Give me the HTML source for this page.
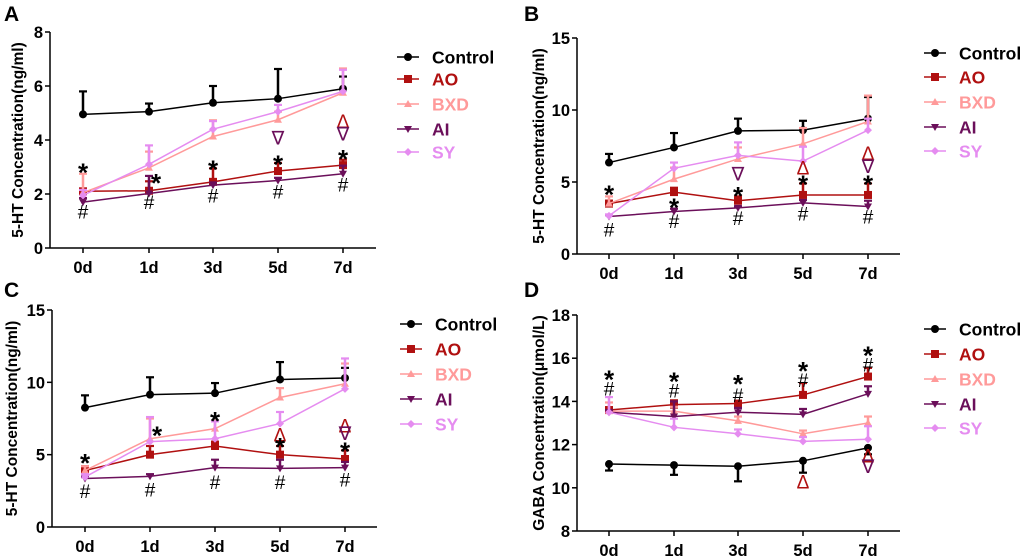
<!DOCTYPE html>
<html><head><meta charset="utf-8"><style>
html,body{margin:0;padding:0;background:#fff;}
svg{display:block;font-family:"Liberation Sans",Arial,sans-serif;}
</style></head><body>
<svg id="fig" width="1020" height="558" viewBox="0 0 1020 558" xmlns="http://www.w3.org/2000/svg"></svg>
<script>
const categories = ["0d","1d","3d","5d","7d"];
const seriesNames = ["Control","AO","BXD","AI","SY"];
const colors = ["#000000","#b01010","#ff9a9a","#6b0f5a","#e58cf0"];

// Panel A (5-HT ng/ml)
const aControl=[4.95,5.05,5.38,5.53,5.9], aControlErr=[0.85,0.3,0.62,1.1,0.45];
const aAO=[2.1,2.12,2.45,2.85,3.07], aAOErr=[0.1,0.35,0.5,0.3,0.2];
const aBXD=[2.05,2.97,4.13,4.75,5.75], aBXDErr=[0.7,0.6,0.6,0.3,0.9];
const aAI=[1.7,2.02,2.33,2.5,2.75], aAIErr=[0.15,0.65,0.1,0.1,0.3];
const aSY=[1.95,3.1,4.4,5.05,5.8], aSYErr=[0.2,0.7,0.3,0.25,0.8];
const aTicks=[0,2,4,6,8];
const aNotes=[[0,2.95,"*",0],[0,1.35,"#",0],[1,2.55,"*",0],[1,1.7,"#",0],[2,3.05,"*",0],[2,1.95,"#",0],[3,3.25,"*",0],[3,2.1,"#",0],[3,4.1,"∇",3],[4,3.45,"*",0],[4,2.35,"#",0],[4,4.7,"Δ",1],[4,4.25,"∇",3]];

// Panel B
const bControl=[6.35,7.4,8.55,8.6,9.4], bControlErr=[0.6,1.0,0.85,0.65,1.5];
const bAO=[3.5,4.3,3.7,4.1,4.1], bAOErr=[0.2,0.3,0.3,0.8,0.8];
const bBXD=[3.5,5.2,6.6,7.65,9.2], bBXDErr=[0.5,0.8,0.8,1.1,1.8];
const bAI=[2.6,2.95,3.2,3.55,3.3], bAIErr=[0.1,0.2,0.1,0.2,0.4];
const bSY=[2.65,5.95,6.85,6.45,8.6], bSYErr=[0.1,0.4,0.9,1.0,0.8];
const bTicks=[0,5,10,15];
const bNotes=[[0,4.4,"*",0],[0,1.7,"#",0],[1,3.5,"*",0],[1,2.3,"#",0],[2,5.6,"∇",3],[2,4.3,"*",0],[2,2.5,"#",0],[3,6.0,"Δ",1],[3,5.1,"*",0],[3,2.8,"#",0],[4,7.0,"Δ",1],[4,6.1,"∇",3],[4,5.1,"*",0],[4,2.6,"#",0]];

// Panel C
const cControl=[8.25,9.15,9.25,10.2,10.3], cControlErr=[0.85,1.2,0.7,1.2,0.7];
const cAO=[3.9,5.0,5.6,5.0,4.7], cAOErr=[0.3,0.6,0.3,0.6,0.6];
const cBXD=[3.9,6.1,6.8,8.95,9.9], cBXDErr=[0.3,1.4,0.55,0.65,1.4];
const cAI=[3.35,3.5,4.1,4.05,4.1], cAIErr=[0.1,0.15,0.55,0.6,0.4];
const cSY=[3.45,5.9,6.1,7.15,9.55], cSYErr=[0.2,1.7,1.2,0.8,2.1];
const cTicks=[0,5,10,15];
const cNotes=[[0,4.7,"*",0],[0,2.5,"#",0],[1,6.6,"*",0],[1,2.6,"#",0],[2,7.6,"*",0],[2,3.1,"#",0],[3,6.4,"Δ",1],[3,5.8,"*",0],[3,3.1,"#",0],[4,7.0,"Δ",1],[4,6.5,"∇",3],[4,5.5,"*",0],[4,3.3,"#",0]];

// Panel D (GABA)
const dControl=[11.1,11.05,11.0,11.25,11.85], dControlErr=[-0.3,-0.45,-0.7,-0.55,-0.3];
const dAO=[13.6,13.85,13.9,14.3,15.15], dAOErr=[0.1,0.2,0.1,0.55,0.4];
const dBXD=[13.55,13.55,13.1,12.5,13.0], dBXDErr=[0.4,0.2,0.2,0.15,0.3];
const dAI=[13.5,13.3,13.5,13.4,14.35], dAIErr=[0.1,0.7,0.2,0.25,0.35];
const dSY=[13.5,12.8,12.5,12.15,12.25], dSYErr=[0.7,0.4,0.2,0.2,0.6];
const dTicks=[8,10,12,14,16,18];
const dNotes=[[0,15.2,"*",0],[0,14.6,"#",0],[1,15.1,"*",0],[1,14.5,"#",0],[2,15.0,"*",0],[2,14.3,"#",0],[3,15.6,"*",0],[3,15.0,"#",0],[3,10.3,"Δ",1],[4,16.3,"*",0],[4,15.7,"#",0],[4,11.5,"Δ",1],[4,11.0,"∇",3]];

const NS="http://www.w3.org/2000/svg";
const svg=document.getElementById("fig");
function mk(tag,attrs,parent){const e=document.createElementNS(NS,tag);for(const k in attrs)e.setAttribute(k,attrs[k]);(parent||svg).appendChild(e);return e;}

function marker(g,i,x,y,c){
  let e;
  if(i===0)e=mk("circle",{cx:x,cy:y,r:4,fill:c},g);
  else if(i===1)e=mk("rect",{x:x-4,y:y-4,width:8,height:8,fill:c},g);
  else if(i===2)e=mk("polygon",{points:`${x},${y-4} ${x+4},${y+3} ${x-4},${y+3}`,fill:c},g);
  else if(i===3)e=mk("polygon",{points:`${x-4},${y-3} ${x+4},${y-3} ${x},${y+4}`,fill:c},g);
  else e=mk("polygon",{points:`${x},${y-4} ${x+4},${y} ${x},${y+4} ${x-4},${y}`,fill:c},g);
  return e;
}

function panel(p){
  const g=mk("g",{});
  
  
  const yS=v=>p.y0-(v-p.ymin)/(p.ymax-p.ymin)*(p.y0-p.y1);
  const xS=i=>p.xc[i];
  const lt=mk("text",{x:p.lx,y:p.ly,"font-size":21,"font-weight":"bold"},g);lt.textContent=p.letter;
  
  const ya=mk("line",{x1:p.ax,y1:p.y1,x2:p.ax,y2:p.y0,stroke:"#000","stroke-width":1.5},g);
  
  const xa=mk("line",{x1:p.ax,y1:p.y0,x2:p.xend,y2:p.y0,stroke:"#000","stroke-width":1.5},g);
  
  p.ticks.forEach(t=>{
    mk("line",{x1:p.ax-5,y1:yS(t),x2:p.ax,y2:yS(t),stroke:"#000","stroke-width":1.5},g);
    const tx=mk("text",{x:p.ax-7,y:yS(t)+6,"font-size":16.5,"font-weight":"bold","text-anchor":"end"},g);
    tx.textContent=t;
  });
  categories.forEach((c,i)=>{
    mk("line",{x1:xS(i),y1:p.y0,x2:xS(i),y2:p.y0+5,stroke:"#000","stroke-width":1.5},g);
    const tx=mk("text",{x:xS(i),y:p.y0+25,"font-size":16.5,"font-weight":"bold","text-anchor":"middle"},g);
    tx.textContent=c;
  });
  const mid=(p.y0+p.y1)/2;
  const yt=mk("text",{x:0,y:0,"font-size":15.5,"font-weight":"bold","text-anchor":"middle",transform:`translate(${p.titleX},${mid}) rotate(-90)`},g);
  yt.textContent=p.title;
  p.series.forEach((s,si)=>{
    const sg=mk("g",{},g);
    
    
    const c=colors[si];
    const pts=s.v.map((v,i)=>xS(i)+","+yS(v)).join(" ");
    mk("polyline",{points:pts,fill:"none",stroke:c,"stroke-width":1.5},sg);
    s.v.forEach((v,i)=>{
      const ye=yS(v+s.e[i]);
      mk("line",{x1:xS(i),y1:yS(v),x2:xS(i),y2:ye,stroke:c,"stroke-width":2.5},sg);
      mk("line",{x1:xS(i)-4,y1:ye,x2:xS(i)+4,y2:ye,stroke:c,"stroke-width":2.2},sg);
      const m=marker(sg,si,xS(i),yS(v),c);
      
      
    });
  });
  p.notes.forEach(n=>{
    const off=(n[2]==="*"&&((p.letter==="A"||p.letter==="C")&&n[0]===1))?7:0;
    const isStar=n[2]==="*";
    const t=mk("text",{x:xS(n[0])+off,y:yS(n[1])+(isStar?13:7),"font-size":isStar?26:19,"font-weight":isStar?"bold":"normal","text-anchor":"middle",fill:colors[n[3]]},g);
    t.textContent=n[2];
  });
  seriesNames.forEach((nm,si)=>{
    const ly=p.legY[si];
    const lg=mk("g",{},g);
    
    
    mk("line",{x1:p.legX,y1:ly,x2:p.legX+22,y2:ly,stroke:colors[si],"stroke-width":1.5},lg);
    marker(lg,si,p.legX+11,ly,colors[si]);
    const t=mk("text",{x:p.legX+35,y:ly+6.5,"font-size":17.5,"font-weight":"bold",fill:colors[si]},lg);
    t.textContent=nm;
  });
}

panel({letter:"A",lx:4,ly:21,ax:50,y1:32,y0:248,xend:376,ymin:0,ymax:8,xc:[83,149,213,278,343],ticks:aTicks,title:"5-HT Concentration(ng/ml)",titleX:23,
  series:[{v:aControl,e:aControlErr},{v:aAO,e:aAOErr},{v:aBXD,e:aBXDErr},{v:aAI,e:aAIErr},{v:aSY,e:aSYErr}],notes:aNotes,legX:397,legY:[57,79,104,129,152]});
panel({letter:"B",lx:524,ly:21,ax:577,y1:38,y0:254,xend:900,ymin:0,ymax:15,xc:[609,674,738,803,868],ticks:bTicks,title:"5-HT Concentration(ng/ml)",titleX:544,
  series:[{v:bControl,e:bControlErr},{v:bAO,e:bAOErr},{v:bBXD,e:bBXDErr},{v:bAI,e:bAIErr},{v:bSY,e:bSYErr}],notes:bNotes,legX:924,legY:[53,77,102,127,151]});
panel({letter:"C",lx:4,ly:297,ax:52,y1:310,y0:527,xend:377,ymin:0,ymax:15,xc:[85,150,215,280,345],ticks:cTicks,title:"5-HT Concentration(ng/ml)",titleX:17,
  series:[{v:cControl,e:cControlErr},{v:cAO,e:cAOErr},{v:cBXD,e:cBXDErr},{v:cAI,e:cAIErr},{v:cSY,e:cSYErr}],notes:cNotes,legX:400,legY:[324,349,374,399,424]});
panel({letter:"D",lx:524,ly:297,ax:577,y1:315,y0:531,xend:900,ymin:8,ymax:18,xc:[609,674,738,803,868],ticks:dTicks,title:"GABA Concentration(μmol/L)",titleX:544,
  series:[{v:dControl,e:dControlErr},{v:dAO,e:dAOErr},{v:dBXD,e:dBXDErr},{v:dAI,e:dAIErr},{v:dSY,e:dSYErr}],notes:dNotes,legX:924,legY:[329,354,379,404,428]});
</script>
</body></html>
